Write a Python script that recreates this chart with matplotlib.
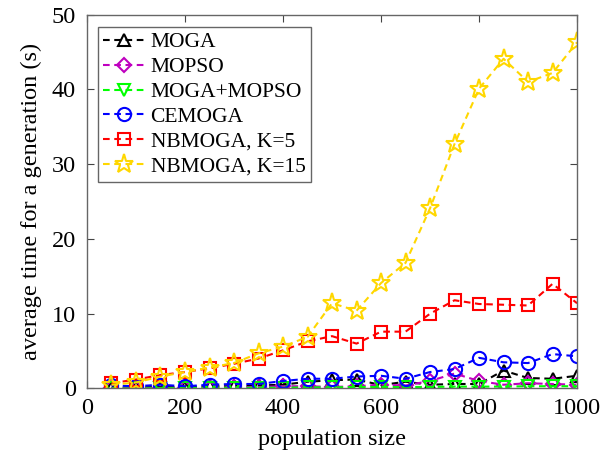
import matplotlib
matplotlib.use("Agg")
import matplotlib.pyplot as plt

pop_size = [50, 100, 150, 200, 250, 300, 350, 400, 450, 500,
            550, 600, 650, 700, 750, 800, 850, 900, 950, 1000]

moga = [0.1, 0.15, 0.2, 0.2, 0.3, 0.3, 0.4, 0.5, 0.9, 1.1,
        1.2, 0.45, 0.9, 0.5, 0.6, 0.6, 2.4, 1.4, 1.3, 1.7]
mopso = [0.05, 0.05, 0.1, 0.1, 0.1, 0.15, 0.2, 0.3, 0.3, 0.2,
         0.3, 0.5, 0.4, 1.0, 2.0, 1.0, 0.5, 0.7, 0.6, 0.5]
moga_mopso = [0.0, 0.0, 0.05, 0.05, 0.1, 0.1, 0.1, 0.1, 0.15, 0.15,
              0.2, 0.2, 0.2, 0.2, 0.25, 0.25, 0.25, 0.3, 0.3, 0.3]
cemoga = [0.4, 0.3, 0.5, 0.3, 0.5, 0.6, 0.6, 1.0, 1.3, 1.3,
          1.6, 1.7, 1.3, 2.2, 2.6, 4.1, 3.5, 3.4, 4.6, 4.3]
nbmoga_k5 = [0.7, 1.2, 1.8, 2.2, 2.7, 3.3, 4.0, 5.1, 6.3, 7.0,
             6.0, 7.6, 7.6, 10.0, 11.8, 11.3, 11.2, 11.1, 14.0, 11.4]
nbmoga_k15 = [0.5, 0.8, 1.6, 2.2, 2.8, 3.4, 4.7, 5.6, 6.9, 11.4,
              10.4, 14.1, 16.8, 24.1, 32.7, 40.1, 44.1, 41.0, 42.2, 46.3]

series = [
    ("MOGA", moga, "k", "^", 9),
    ("MOPSO", mopso, "#BF00BF", "D", 7.5),
    ("MOGA+MOPSO", moga_mopso, "#00FF00", "v", 9),
    ("CEMOGA", cemoga, "#0000FF", "o", 9.5),
    ("NBMOGA, K=5", nbmoga_k5, "#FF0000", "s", 8.5),
    ("NBMOGA, K=15", nbmoga_k15, "#FFD700", "*", 14),
]

plt.rcParams["font.family"] = ["Liberation Serif", "DejaVu Serif"]
plt.rcParams["mathtext.fontset"] = "stix"

fig = plt.figure(figsize=(6.10, 4.58), dpi=100)
ax = fig.add_axes([0.1426, 0.1518, 0.946 - 0.1426, 0.968 - 0.1518])

for label, vals, color, marker, ms in series:
    ax.plot(pop_size, vals, linestyle="--", dashes=(3.2, 2.2), color=color,
            linewidth=1.5, marker=marker, markersize=ms,
            markerfacecolor="none", markeredgecolor=color,
            markeredgewidth=1.5, label=label, clip_on=True)

ax.set_xlim(0, 1000)
ax.set_ylim(0, 50)
ax.set_xticks([0, 200, 400, 600, 800, 1000])
ax.set_yticks([0, 10, 20, 30, 40, 50])
ax.tick_params(direction="in", top=True, right=True, length=5, width=0.8,
               color="#444444", labelsize=17.5)
ax.tick_params(axis="x", pad=7)
ax.tick_params(axis="y", pad=8)
for sp in ax.spines.values():
    sp.set_color("#666666")
    sp.set_linewidth(1.0)

ax.set_xlabel("population size", fontsize=17.5, labelpad=7)
ax.set_ylabel("average time for a generation (s)", fontsize=17.5, labelpad=7)

leg = ax.legend(loc="upper left", bbox_to_anchor=(0.022, 0.967), fontsize=15.5,
                frameon=True, fancybox=False, framealpha=1,
                edgecolor="#666666", handlelength=1.9, handletextpad=0.3,
                labelspacing=0.22, borderpad=0.25, borderaxespad=0.0)
leg.get_frame().set_linewidth(1.0)

fig.savefig("out.png", dpi=100)
